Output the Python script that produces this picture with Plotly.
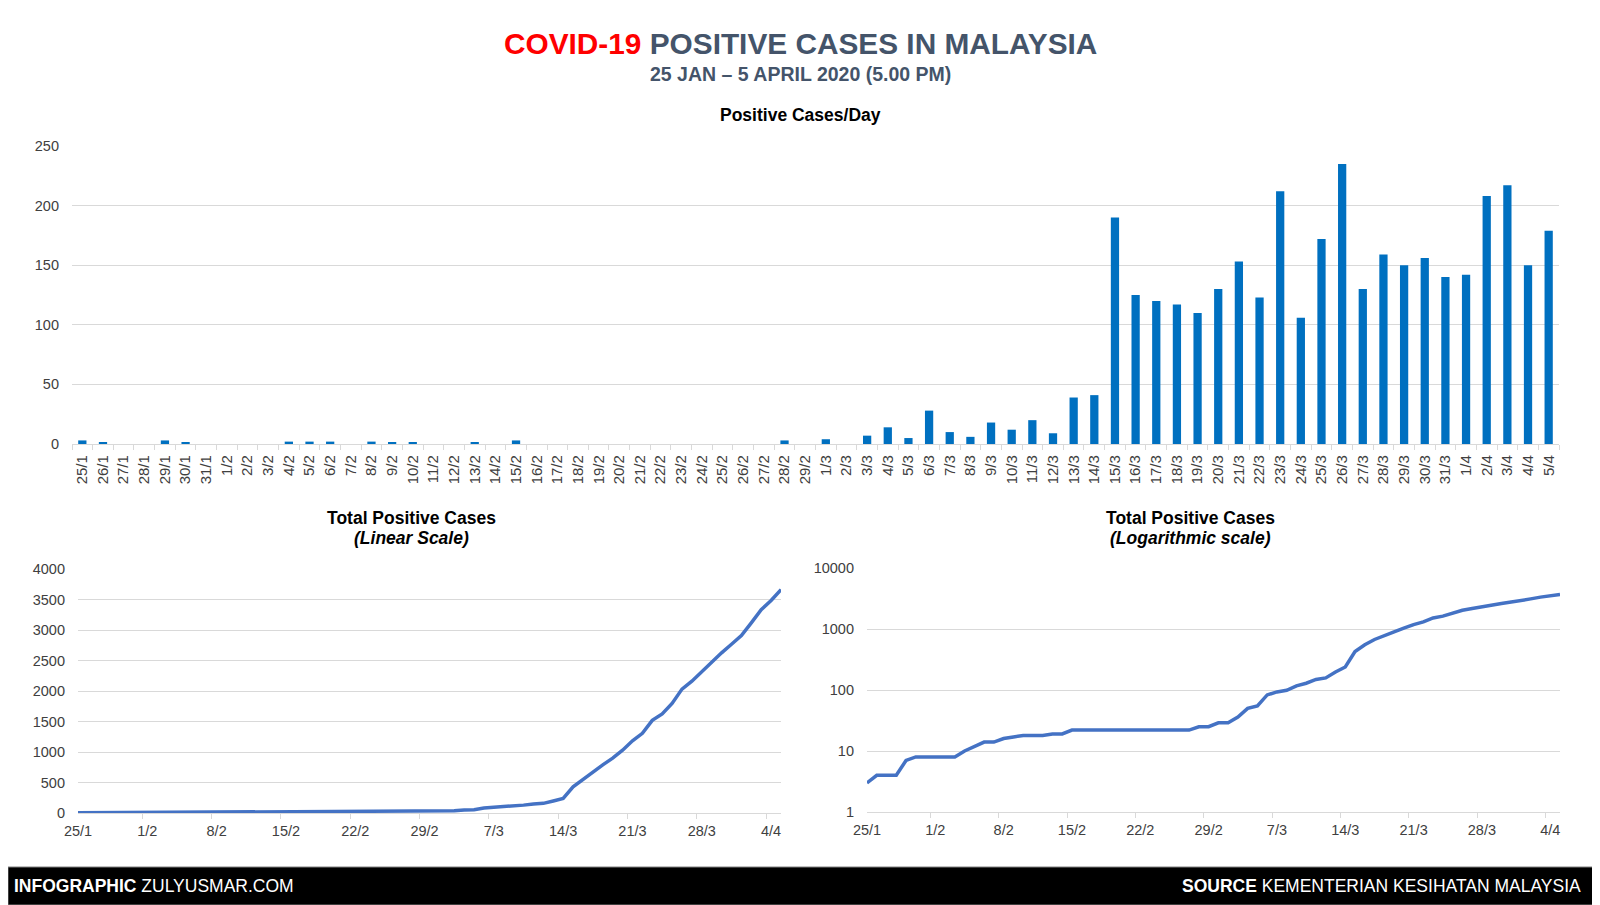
import plotly.graph_objects as go

# Daily dates, 25 Jan - 5 Apr 2020
dates = [
    '25/1', '26/1', '27/1', '28/1', '29/1', '30/1', '31/1',
    '1/2', '2/2', '3/2', '4/2', '5/2', '6/2', '7/2', '8/2', '9/2', '10/2',
    '11/2', '12/2', '13/2', '14/2', '15/2', '16/2', '17/2', '18/2', '19/2',
    '20/2', '21/2', '22/2', '23/2', '24/2', '25/2', '26/2', '27/2', '28/2',
    '29/2',
    '1/3', '2/3', '3/3', '4/3', '5/3', '6/3', '7/3', '8/3', '9/3', '10/3',
    '11/3', '12/3', '13/3', '14/3', '15/3', '16/3', '17/3', '18/3', '19/3',
    '20/3', '21/3', '22/3', '23/3', '24/3', '25/3', '26/3', '27/3', '28/3',
    '29/3', '30/3', '31/3',
    '1/4', '2/4', '3/4', '4/4', '5/4',
]

daily_cases = [
    3, 1, 0, 0, 3, 1, 0,
    0, 0, 0, 2, 2, 2, 0, 2, 1, 1,
    0, 0, 1, 0, 3, 0, 0, 0, 0,
    0, 0, 0, 0, 0, 0, 0, 0, 3,
    0,
    4, 0, 7, 14, 5, 28, 10, 6, 18, 12,
    20, 9, 39, 41, 190, 125, 120, 117, 110,
    130, 153, 123, 212, 106, 172, 235, 130, 159,
    150, 156, 140,
    142, 208, 217, 150, 179,
]

total_cases = [
    3, 4, 4, 4, 7, 8, 8,
    8, 8, 8, 10, 12, 14, 14, 16, 17, 18,
    18, 18, 19, 19, 22, 22, 22, 22, 22,
    22, 22, 22, 22, 22, 22, 22, 22, 25,
    25,
    29, 29, 36, 50, 55, 83, 93, 99, 117, 129,
    149, 158, 197, 238, 428, 553, 673, 790, 900,
    1030, 1183, 1306, 1518, 1624, 1796, 2031, 2161, 2320,
    2470, 2626, 2766,
    2908, 3116, 3333, 3483, 3662,
]

log_tickvals = [1, 10, 100, 1000, 10000]

# page body has an 8px margin, so the figure covers page px 8..1600 / 8..905
OFF = 8
W, H = 1600 - OFF, 905 - OFF
FONT = 'Liberation Sans, Arial, sans-serif'
GRID = '#d9d9d9'
TICK_FONT = dict(family=FONT, size=14.5, color='#404040')
TITLE_BLUE = '#44546a'


def px(x):
    return (x - OFF) / W


def py(y):
    return 1 - (y - OFF) / H


def add_title(fig, text, x, y, size, color='black', xanchor='center'):
    fig.add_annotation(
        text=text, x=px(x), y=py(y), xref='paper', yref='paper',
        xanchor=xanchor, yanchor='middle', showarrow=False,
        font=dict(family=FONT, size=size, color=color),
    )


fig = go.Figure()

fig.add_trace(go.Bar(
    x=dates, y=daily_cases, xaxis='x', yaxis='y',
    marker=dict(color='#0070c0', line=dict(width=0)),
    showlegend=False,
))
fig.add_trace(go.Scatter(
    x=dates, y=total_cases, xaxis='x2', yaxis='y2', mode='lines',
    line=dict(color='#4472c4', width=3.5), showlegend=False,
))
fig.add_trace(go.Scatter(
    x=dates, y=total_cases, xaxis='x3', yaxis='y3', mode='lines',
    line=dict(color='#4472c4', width=3.5), showlegend=False,
))

# automargin off, otherwise the template shrinks the paper area
common_x = dict(
    type='category', showgrid=False, showline=True, linecolor=GRID,
    linewidth=1.3, ticks='outside', ticklen=5, tickcolor=GRID,
    tickson='boundaries', tickfont=TICK_FONT, zeroline=False,
    fixedrange=True, automargin=False,
)
common_y = dict(
    showgrid=True, gridcolor=GRID, gridwidth=1.3, zeroline=False,
    showline=False, ticks='', tickfont=TICK_FONT, ticklabelstandoff=12,
    fixedrange=True, automargin=False,
)

fig.update_layout(
    width=W, height=H,
    margin=dict(l=0, r=0, t=0, b=0, pad=0),
    paper_bgcolor='white', plot_bgcolor='white',
    bargap=0.6,
    xaxis=dict(common_x, domain=[px(72), px(1559)], anchor='y',
               tickangle=-90, ticklabelstandoff=4,
               tickfont=dict(TICK_FONT, size=15)),
    yaxis=dict(common_y, domain=[py(444), py(146)], anchor='x',
               range=[0, 250], dtick=50),
    xaxis2=dict(common_x, domain=[px(78), px(781)], anchor='y2',
                dtick=7, tickangle=0, ticklabelstandoff=4),
    yaxis2=dict(common_y, domain=[py(813), py(569)], anchor='x2',
                range=[0, 4000], dtick=500),
    xaxis3=dict(common_x, domain=[px(867), px(1560)], anchor='y3',
                dtick=7, tickangle=0, ticklabelstandoff=4),
    yaxis3=dict(common_y, domain=[py(812), py(568)], anchor='x3',
                type='log', range=[0, 4], tickvals=log_tickvals,
                ticktext=[str(v) for v in log_tickvals]),
)

# Headings
add_title(fig, '<b><span style="color:#ff0000">COVID-19</span> '
          'POSITIVE CASES IN MALAYSIA</b>', 800, 43, 29.8, TITLE_BLUE)
add_title(fig, '<b>25 JAN – 5 APRIL 2020 (5.00 PM)</b>', 800, 74, 19.5,
          TITLE_BLUE)
add_title(fig, '<b>Positive Cases/Day</b>', 800, 115, 17.5)
add_title(fig, '<b>Total Positive Cases</b>', 411, 518, 17.5)
add_title(fig, '<b><i>(Linear Scale)</i></b>', 411, 538, 17.5)
add_title(fig, '<b>Total Positive Cases</b>', 1190, 518, 17.5)
add_title(fig, '<b><i>(Logarithmic scale)</i></b>', 1190, 538, 17.5)

# Footer band
fig.add_shape(type='rect', xref='paper', yref='paper', x0=0, x1=1,
              y0=0, y1=py(867), fillcolor='black',
              line=dict(color='#7f7f7f', width=1), layer='below')
add_title(fig, '<b>INFOGRAPHIC</b> ZULYUSMAR.COM', 12, 886, 17.5,
          'white', xanchor='left')
add_title(fig, '<b>SOURCE</b> KEMENTERIAN KESIHATAN MALAYSIA', 1583, 886,
          17.5, 'white', xanchor='right')

fig.write_html('out.html')
